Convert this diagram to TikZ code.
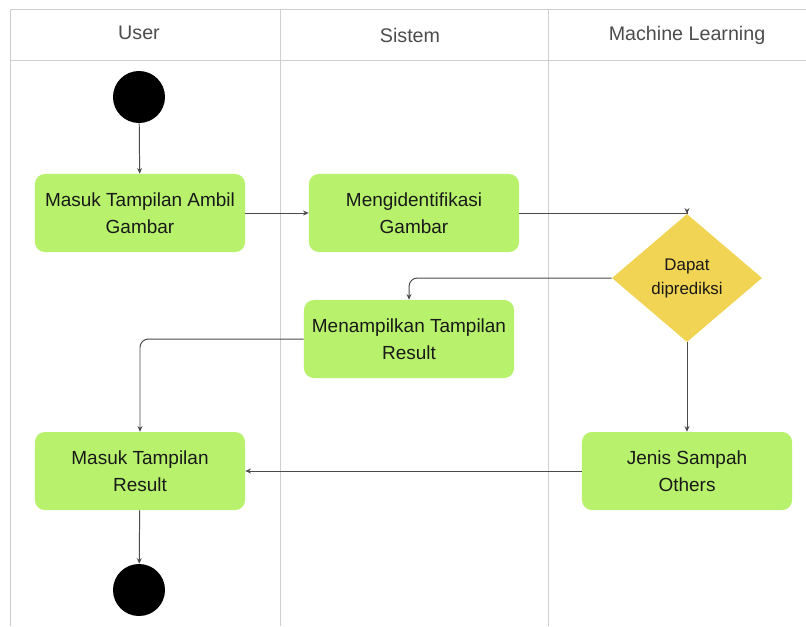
\documentclass[tikz,border=0pt]{standalone}
\usepackage{fontspec}
\setmainfont{Liberation Sans}
\usepackage{tikz}
\usepackage{xcolor}
\usetikzlibrary{shapes.geometric,arrows.meta}

\definecolor{actgreen}{HTML}{B8F26C}
\definecolor{decyellow}{HTML}{F1D453}
\definecolor{laneline}{HTML}{CFCFCF}
\definecolor{flowline}{HTML}{4A4A4A}

\tikzset{
  lane/.style={draw=laneline, line width=0.7pt},
  lanetitle/.style={text=black!70, font=\fontsize{14}{17}\selectfont},
  activity/.style={fill=actgreen, rounded corners=7pt, minimum width=5.25cm,
    minimum height=1.95cm, align=center, text=black!90,
    font=\fontsize{13.5}{19}\selectfont},
  decision/.style={diamond, fill=decyellow, minimum width=3.75cm,
    minimum height=3.2cm, aspect=1.17, inner sep=0pt, align=center,
    text=black!90, font=\fontsize{12}{17}\selectfont},
  dot/.style={circle, fill=black, minimum size=1.3cm, inner sep=0pt},
  flow/.style={draw=flowline, line width=0.7pt,
    -{Stealth[length=4pt,width=3.5pt]}},
  flowbend/.style={flow, rounded corners=6pt},
}

\begin{document}
\begin{tikzpicture}[x=0.025cm,y=-0.025cm]
\useasboundingbox (0,0) rectangle (806,626);
% swimlanes
\draw[lane] (10.5,626) -- (10.5,9) -- (806,9);
\draw[lane] (10.5,60) -- (806,60);
\draw[lane] (280,9) -- (280,626);
\draw[lane] (548,9) -- (548,626);
\node[lanetitle] (userlane) at (139,33) {User};
\node[lanetitle] (sistemlane) at (410,35) {Sistem};
\node[lanetitle] (mllane) at (687,35) {Machine Learning};

% activities
\node[dot] (mulai) at (139,97) {};
\node[activity] (ambil) at (140,213) {Masuk Tampilan Ambil\\Gambar};
\node[activity] (identifikasi) at (414,213) {Mengidentifikasi\\Gambar};
\node[decision] (prediksi) at (687,278) {Dapat\\diprediksi};
\node[activity] (tampil) at (409,339) {Menampilkan Tampilan\\Result};
\node[activity] (result) at (140,471) {Masuk Tampilan\\Result};
\node[activity] (others) at (687,471) {Jenis Sampah\\Others};
\node[dot] (selesai) at (139,590) {};

% flows
\draw[flow] (mulai) -- (ambil);
\draw[flow] (ambil) -- (identifikasi);
\draw[flow] (identifikasi.east) -| (prediksi.north);
\draw[flowbend] (prediksi.west) -| (tampil.north);
\draw[flowbend] (tampil.west) -| (result.north);
\draw[flow] (prediksi.south) -- (others.north);
\draw[flow] (others.west) -- (result.east);
\draw[flow] (result) -- (selesai);
\end{tikzpicture}
\end{document}
